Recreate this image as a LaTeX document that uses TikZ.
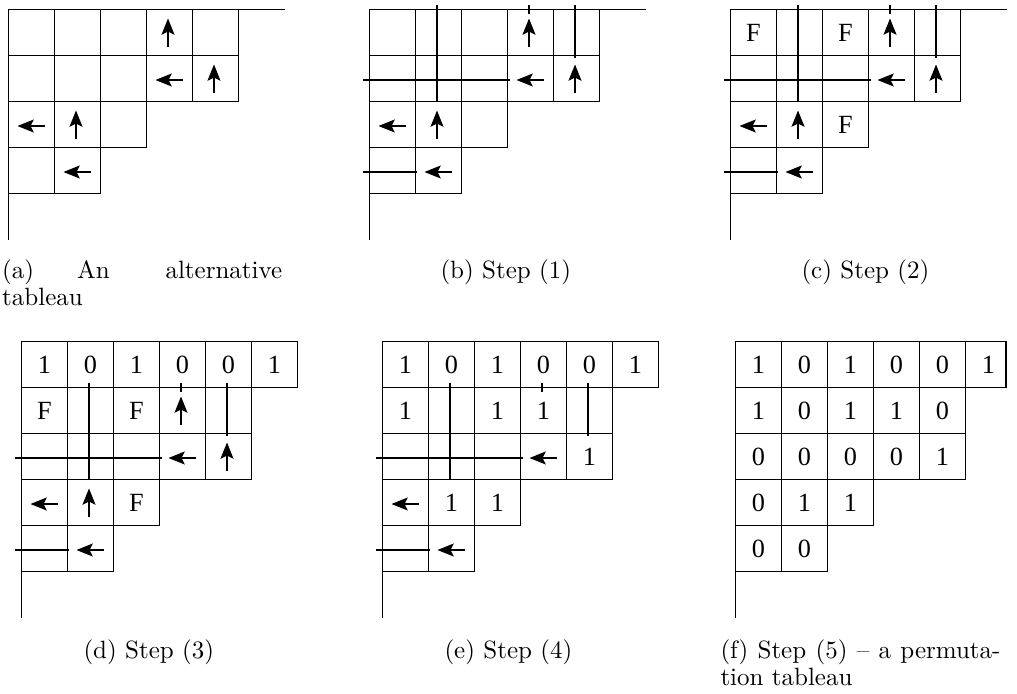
\documentclass[tikz,border=0pt]{standalone}
\usepackage{fontspec}
\newfontfamily\cellfont{Liberation Serif}
\usetikzlibrary{arrows.meta}
\tikzset{
 gridline/.style={line width=0.42pt},
 thk/.style={line width=0.9pt},
 arr/.style={line width=0.45pt,-{Stealth[length=6.5pt,width=5.2pt,inset=1.3pt]}},
 celltext/.style={font=\cellfont\fontsize{10.5}{12}\selectfont,inner sep=0pt},
 captext/.style={font=\fontsize{10}{12}\selectfont,anchor=base west,inner sep=0pt},
}
\newcommand\UpA[2]{\draw[arr] ({46*#1+21.5},{46*#2+37}) -- ({46*#1+21.5},{46*#2+9});}
\newcommand\LfA[2]{\draw[arr] ({46*#1+36},{46*#2+24.5}) -- ({46*#1+9},{46*#2+24.5});}
\newcommand\CellT[3]{\node[celltext] (\panelid-#1-#2) at ({46*#1+23},{46*#2+23}) {#3};}
\newcommand\AltGrid{%
 \foreach \r/\n in {0/5,1/5,2/3,3/2}{\foreach \c in {1,...,\n}{\draw[gridline] ({46*(\c-1)},{46*\r}) rectangle ++(46,46);}}}
\newcommand\ThickLines{%
 \draw[thk] (67.5,-5) -- (67.5,92.5);
 \draw[thk] (159.5,-5) -- (159.5,4);
 \draw[thk] (205.5,-5) -- (205.5,48);
 \draw[thk] (-6.5,70.5) -- (140,70.5);
 \draw[thk] (-6.5,162.5) -- (47.5,162.5);}
\newcommand\AllArrows{\UpA{3}{0}\LfA{3}{1}\UpA{4}{1}\LfA{0}{2}\UpA{1}{2}\LfA{1}{3}}
\newcommand\NumRow{%
 \foreach \c in {0,...,5}{\draw[gridline] ({46*\c},-46) rectangle ++(46,46);}
 \foreach \c/\v in {0/1,1/0,2/1,3/0,4/0,5/1}{\CellT{\c}{-1}{\v}}
 \draw[gridline] (0,-46) -- (0,230);}
\begin{document}
\begin{tikzpicture}[x=0.4pt,y=-0.4pt]
\useasboundingbox (0,0) rectangle (1017,693);
% (a)
\begin{scope}[shift={(8.5,9.5)}]
 \def\panelid{a}
 \AltGrid
 \draw[gridline] (0,0) -- (276,0);
 \draw[gridline] (0,0) -- (0,230);
 \AllArrows
\end{scope}
% (b)
\begin{scope}[shift={(369.5,9.5)}]
 \def\panelid{b}
 \AltGrid
 \draw[gridline] (0,0) -- (276,0);
 \draw[gridline] (0,0) -- (0,230);
 \AllArrows
 \ThickLines
\end{scope}
% (c)
\begin{scope}[shift={(730.5,9.5)}]
 \def\panelid{c}
 \AltGrid
 \draw[gridline] (0,0) -- (276,0);
 \draw[gridline] (0,0) -- (0,230);
 \AllArrows
 \ThickLines
 \CellT{0}{0}{F}\CellT{2}{0}{F}\CellT{2}{2}{F}
\end{scope}
% (d)
\begin{scope}[shift={(21.5,387.5)}]
 \def\panelid{d}
 \AltGrid
 \NumRow
 \AllArrows
 \ThickLines
 \CellT{0}{0}{F}\CellT{2}{0}{F}\CellT{2}{2}{F}
\end{scope}
% (e)
\begin{scope}[shift={(382.5,387.5)}]
 \def\panelid{e}
 \AltGrid
 \NumRow
 \LfA{3}{1}\LfA{0}{2}\LfA{1}{3}
 \ThickLines
 \CellT{0}{0}{1}\CellT{2}{0}{1}\CellT{3}{0}{1}
 \CellT{4}{1}{1}\CellT{1}{2}{1}\CellT{2}{2}{1}
\end{scope}
% (f)
\begin{scope}[shift={(735.5,387.5)}]
 \def\panelid{f}
 \AltGrid
 \foreach \c in {0,...,4}{\draw[gridline] ({46*\c},-46) rectangle ++(46,46);}
 \draw[gridline] (230,-46) -- (270.5,-46) -- (270.5,0) -- (230,0);
 \foreach \c/\v in {0/1,1/0,2/1,3/0,4/0,5/1}{\CellT{\c}{-1}{\v}}
 \draw[gridline] (0,-46) -- (0,230);
 \foreach \c/\v in {0/1,1/0,2/1,3/1,4/0}{\CellT{\c}{0}{\v}}
 \foreach \c/\v in {0/0,1/0,2/0,3/0,4/1}{\CellT{\c}{1}{\v}}
 \foreach \c/\v in {0/0,1/1,2/1}{\CellT{\c}{2}{\v}}
 \foreach \c/\v in {0/0,1/0}{\CellT{\c}{3}{\v}}
\end{scope}
% captions
\node[captext] (capa1) at (1.7,278) {(a)};
\node[captext] (capa2) at (76.7,278) {An};
\node[captext] (capa3) at (165,278) {alternative};
\node[captext] (capa4) at (1.7,305) {tableau};
\node[captext] (capb) at (440,278) {(b) Step (1)};
\node[captext] (capc) at (801,278) {(c) Step (2)};
\node[captext] (capd) at (83,658) {(d) Step (3)};
\node[captext] (cape) at (444,658) {(e) Step (4)};
\node[captext] (capf1) at (720,658) {\makebox[112pt][s]{(f) Step (5) \textendash{} a permuta-}};
\node[captext] (capf2) at (720,685) {tion tableau};
\end{tikzpicture}
\end{document}
